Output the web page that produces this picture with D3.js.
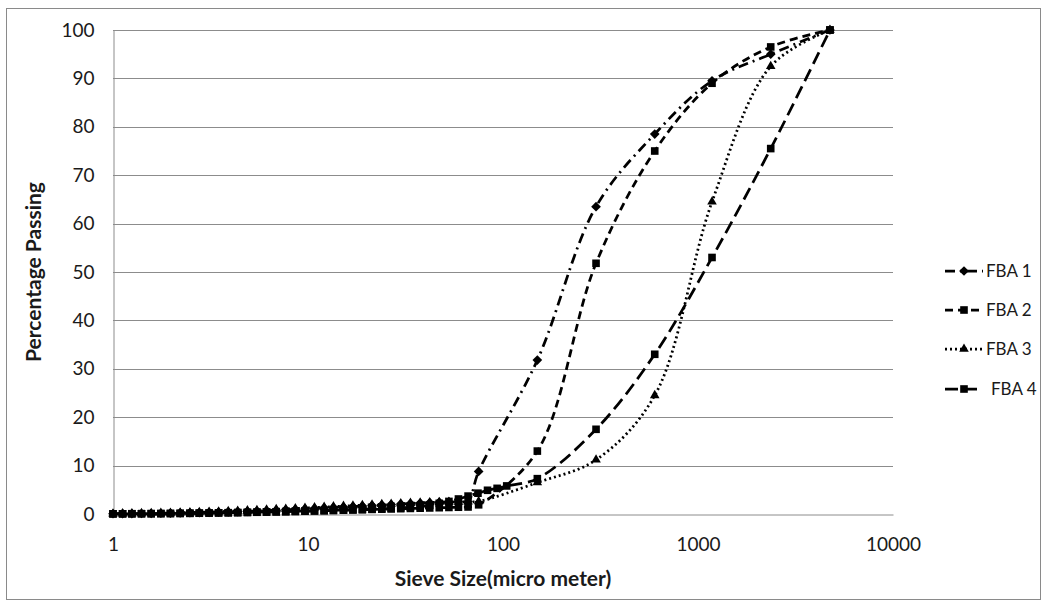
<!DOCTYPE html>
<html>
<head>
<meta charset="utf-8">
<script src="https://cdn.jsdelivr.net/npm/d3@7"></script>
<style>
  body { margin: 0; background: #fff; }
  svg { display: block; }
  text { font-family: Lato, "Open Sans", sans-serif; fill: #1a1a1a; }
</style>
</head>
<body>
<svg id="chart" width="1047" height="606"></svg>
<script>
// ---- data ----
const fineSizes = [1.00, 1.12, 1.25, 1.40, 1.57, 1.76, 1.97, 2.21, 2.48, 2.77, 3.11, 3.48, 3.90, 4.36, 4.89, 5.47, 6.13, 6.87, 7.69, 8.61, 9.65, 10.8, 12.1, 13.5, 15.2, 17.0, 19.0, 21.3, 23.9, 26.7, 29.9, 33.5, 37.6, 42.1, 47.1, 52.8, 59.1, 66.2];
const sieveSizes = [75, 150, 300, 600, 1180, 2360, 4750];

const fba1Fine = [0.05, 0.06, 0.08, 0.10, 0.12, 0.15, 0.18, 0.22, 0.26, 0.30, 0.35, 0.40, 0.45, 0.50, 0.56, 0.62, 0.70, 0.78, 0.86, 0.95, 1.05, 1.15, 1.25, 1.35, 1.45, 1.55, 1.65, 1.75, 1.85, 1.95, 2.05, 2.15, 2.25, 2.35, 2.45, 2.50, 2.55, 2.60];
const fba1Sieve = [8.8, 31.8, 63.5, 78.5, 89.5, 95.0, 100];

const fba2Fine = [0.03, 0.04, 0.05, 0.06, 0.07, 0.09, 0.11, 0.13, 0.15, 0.18, 0.21, 0.24, 0.27, 0.30, 0.34, 0.38, 0.42, 0.46, 0.50, 0.55, 0.60, 0.65, 0.70, 0.75, 0.80, 0.85, 0.90, 0.95, 1.00, 1.05, 1.10, 1.15, 1.20, 1.25, 1.30, 1.35, 1.40, 1.45];
const fba2Sieve = [1.9, 13.0, 51.8, 75.0, 89.0, 96.5, 100];

const fba3Fine = [0.06, 0.08, 0.10, 0.12, 0.15, 0.18, 0.22, 0.26, 0.31, 0.36, 0.42, 0.48, 0.55, 0.62, 0.70, 0.78, 0.86, 0.95, 1.04, 1.13, 1.22, 1.32, 1.42, 1.52, 1.62, 1.72, 1.82, 1.92, 2.00, 2.08, 2.16, 2.24, 2.30, 2.36, 2.42, 2.46, 2.50, 2.54];
const fba3Sieve = [2.6, 6.5, 11.2, 24.5, 64.5, 92.5, 100];

const fba4Sizes = [1.00, 1.12, 1.25, 1.40, 1.57, 1.76, 1.97, 2.21, 2.48, 2.77, 3.11, 3.48, 3.90, 4.36, 4.89, 5.47, 6.13, 6.87, 7.69, 8.61, 9.65, 10.8, 12.1, 13.5, 15.2, 17.0, 19.0, 21.3, 23.9, 26.7, 29.9, 33.5, 37.6, 42.1, 47.1, 52.8, 59.1, 66.2, 74.4, 83.3, 93.3, 104.5, 150, 300, 600, 1180, 2360, 4750];
const fba4Values = [0.03, 0.04, 0.05, 0.06, 0.07, 0.08, 0.10, 0.12, 0.14, 0.16, 0.19, 0.22, 0.25, 0.28, 0.32, 0.36, 0.40, 0.44, 0.48, 0.53, 0.58, 0.63, 0.68, 0.74, 0.80, 0.86, 0.93, 1.00, 1.08, 1.17, 1.27, 1.40, 1.55, 1.80, 2.20, 2.60, 3.10, 3.70, 4.30, 4.90, 5.30, 5.80, 7.30, 17.5, 33.0, 53.0, 75.5, 100];

const seriesNames = ["FBA 1", "FBA 2", "FBA 3", "FBA 4"];
const yTicks = [0, 10, 20, 30, 40, 50, 60, 70, 80, 90, 100];
const xTicks = [1, 10, 100, 1000, 10000];

// ---- build series ----
const join = (xs, ys) => xs.map((x, i) => ({x, y: ys[i]}));
const series = [
  {name: seriesNames[0], pts: join(fineSizes.concat(sieveSizes), fba1Fine.concat(fba1Sieve)), dash: "10,5,2,5", marker: "diamond"},
  {name: seriesNames[1], pts: join(fineSizes.concat(sieveSizes), fba2Fine.concat(fba2Sieve)), dash: "8,5", marker: "square"},
  {name: seriesNames[2], pts: join(fineSizes.concat(sieveSizes), fba3Fine.concat(fba3Sieve)), dash: "2,3", marker: "triangle"},
  {name: seriesNames[3], pts: join(fba4Sizes, fba4Values), dash: "13,6", marker: "square"}
];

// ---- layout ----
const svg = d3.select("#chart");
const L = 113, R = 893, T = 30, B = 514;

svg.append("rect").attr("x", 6.5).attr("y", 8.5).attr("width", 1034).attr("height", 591)
  .attr("fill", "#fff").attr("stroke", "#8a8a8a").attr("stroke-width", 1);

const x = d3.scaleLog().domain([1, 10000]).range([L, R]);
const y = d3.scaleLinear().domain([0, 100]).range([B, T]);

// gridlines
svg.append("g").selectAll("line").data(yTicks.filter(d => d > 0)).join("line")
  .attr("x1", L).attr("x2", R)
  .attr("y1", d => Math.round(y(d)) + 0.5).attr("y2", d => Math.round(y(d)) + 0.5)
  .attr("stroke", "#8c8c8c").attr("stroke-width", 1);

// axes
const yAxis = svg.append("g").attr("transform", `translate(${L + 0.5},0)`)
  .call(d3.axisLeft(y).tickValues(yTicks).tickSize(0).tickPadding(19).tickFormat(d3.format("d")));
const xAxis = svg.append("g").attr("transform", `translate(0,${B + 0.5})`)
  .call(d3.axisBottom(x).tickValues(xTicks).tickSize(0).tickPadding(23).tickFormat(d3.format("d")));
[yAxis, xAxis].forEach(a => {
  a.select(".domain").attr("stroke", "#8c8c8c");
  a.selectAll("text").attr("font-size", 19).attr("fill", "#1a1a1a")
    .attr("font-family", "Lato, 'Open Sans', sans-serif");
});

// axis titles
svg.append("text").attr("x", 503).attr("y", 586).attr("text-anchor", "middle")
  .attr("font-size", 21).attr("font-weight", "bold").text("Sieve Size(micro meter)");
svg.append("text").attr("transform", `translate(41,${(T + B) / 2}) rotate(-90)`)
  .attr("text-anchor", "middle").attr("font-size", 21).attr("font-weight", "bold").text("Percentage Passing");

// lines
const line = d3.line().x(d => x(d.x)).y(d => y(d.y)).curve(d3.curveCatmullRom.alpha(0.5));
const plot = svg.append("g");
series.forEach(s => {
  plot.append("path").datum(s.pts).attr("d", line)
    .attr("fill", "none").attr("stroke", "#000").attr("stroke-width", 2.75)
    .attr("stroke-dasharray", s.dash);
});

// markers
const symbolOf = {
  diamond: d3.symbol().type(d3.symbolDiamond2 || d3.symbolDiamond).size(60),
  square: d3.symbol().type(d3.symbolSquare).size(58),
  triangle: d3.symbol().type(d3.symbolTriangle).size(40)
};
series.forEach(s => {
  plot.append("g").selectAll("path").data(s.pts).join("path")
    .attr("transform", d => `translate(${x(d.x)},${y(d.y)})`)
    .attr("d", symbolOf[s.marker]).attr("fill", "#000");
});

// legend
const legY = [271, 310, 349, 389];
const leg = svg.append("g");
series.forEach((s, i) => {
  const g = leg.append("g").attr("transform", `translate(0,${legY[i]})`);
  g.append("line").attr("x1", 945).attr("x2", 983).attr("y1", 0).attr("y2", 0)
    .attr("stroke", "#000").attr("stroke-width", 2.75).attr("stroke-dasharray", s.dash);
  g.append("path").attr("transform", "translate(964,0)").attr("d", symbolOf[s.marker]).attr("fill", "#000");
  g.append("text").attr("x", i === 3 ? 991 : 986).attr("y", 0).attr("dy", "0.35em")
    .attr("font-size", 17).text(s.name);
});
</script>
</body>
</html>
